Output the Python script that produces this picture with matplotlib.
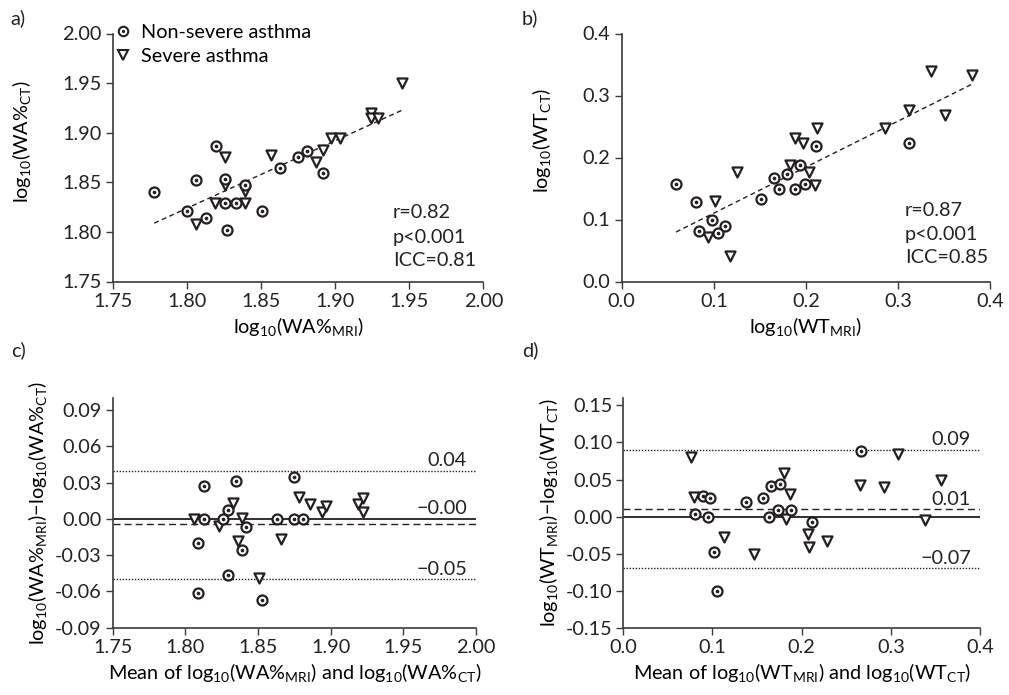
import matplotlib
matplotlib.use('Agg')
import matplotlib.pyplot as plt
from matplotlib.lines import Line2D
from matplotlib.legend_handler import HandlerTuple
import numpy as np

plt.rcParams['font.family'] = ['Lato', 'DejaVu Sans']
plt.rcParams['mathtext.default'] = 'regular'
plt.rcParams['axes.unicode_minus'] = True

# ---------------- data ----------------
# Panel a: log10(WA%) MRI (x) vs CT (y)
a_ns_x = [1.778, 1.820, 1.806, 1.826, 1.839, 1.800, 1.813, 1.826, 1.833, 1.827, 1.851, 1.863, 1.875, 1.881, 1.892]
a_ns_y = [1.840, 1.887, 1.852, 1.853, 1.847, 1.821, 1.814, 1.829, 1.829, 1.802, 1.821, 1.864, 1.876, 1.882, 1.859]
a_s_x = [1.826, 1.857, 1.826, 1.839, 1.819, 1.839, 1.806, 1.887, 1.892, 1.897, 1.903, 1.924, 1.924, 1.929, 1.945]
a_s_y = [1.876, 1.878, 1.847, 1.841, 1.829, 1.829, 1.808, 1.870, 1.883, 1.895, 1.895, 1.920, 1.915, 1.915, 1.950]
a_fit = (0.681, 0.598)      # slope, intercept of dashed line
a_stats = ['r=0.82', 'p<0.001', 'ICC=0.81']

# Panel b: log10(WT) MRI (x) vs CT (y)
b_ns_x = [0.059, 0.081, 0.098, 0.084, 0.105, 0.112, 0.151, 0.165, 0.179, 0.171, 0.194, 0.188, 0.199, 0.211, 0.312]
b_ns_y = [0.158, 0.129, 0.100, 0.082, 0.078, 0.090, 0.133, 0.167, 0.173, 0.149, 0.188, 0.149, 0.158, 0.219, 0.224]
b_s_x = [0.125, 0.101, 0.094, 0.118, 0.183, 0.188, 0.197, 0.212, 0.203, 0.210, 0.286, 0.312, 0.336, 0.351, 0.380]
b_s_y = [0.176, 0.130, 0.071, 0.041, 0.188, 0.232, 0.223, 0.248, 0.176, 0.156, 0.248, 0.277, 0.339, 0.269, 0.333]
b_fit = (0.742, 0.036)
b_stats = ['r=0.87', 'p<0.001', 'ICC=0.85']

# Panel c: Bland-Altman WA%
c_ns_x = [1.813, 1.835, 1.875, 1.813, 1.826, 1.829, 1.842, 1.863, 1.875, 1.881, 1.809, 1.839, 1.829, 1.809, 1.853]
c_ns_y = [0.027, 0.031, 0.035, 0.000, 0.000, 0.007, -0.007, 0.000, 0.000, 0.000, -0.020, -0.026, -0.046, -0.061, -0.067]
c_s_x = [1.806, 1.833, 1.839, 1.823, 1.836, 1.866, 1.851, 1.878, 1.886, 1.894, 1.897, 1.919, 1.922, 1.922]
c_s_y = [0.000, 0.013, 0.001, -0.006, -0.018, -0.017, -0.049, 0.018, 0.012, 0.006, 0.011, 0.012, 0.017, 0.006]
c_mean, c_upper, c_lower = -0.004, 0.040, -0.050
c_labels = ['0.04', '\u22120.00', '\u22120.05']

# Panel d: Bland-Altman WT
d_ns_x = [0.267, 0.089, 0.097, 0.080, 0.095, 0.138, 0.157, 0.166, 0.176, 0.163, 0.173, 0.188, 0.212, 0.102, 0.105]
d_ns_y = [0.089, 0.028, 0.025, 0.003, 0.000, 0.019, 0.025, 0.041, 0.044, 0.000, 0.009, 0.009, -0.008, -0.048, -0.100]
d_s_x = [0.076, 0.079, 0.113, 0.147, 0.180, 0.187, 0.182, 0.207, 0.208, 0.228, 0.265, 0.292, 0.308, 0.356, 0.338]
d_s_y = [0.081, 0.026, -0.027, -0.051, 0.059, 0.030, -0.003, -0.023, -0.041, -0.033, 0.042, 0.040, 0.085, 0.049, -0.004]
d_mean, d_upper, d_lower = 0.010, 0.090, -0.070
d_labels = ['0.09', '0.01', '\u22120.07']

legend_labels = ['Non-severe asthma', 'Severe asthma']

# ---------------- style ----------------
INK = '#231f20'
AX = '#3a3a3a'
FS = 14.3

W, H = 1009, 695
fig = plt.figure(figsize=(W / 100, H / 100), dpi=100)


def rect(l, r, t, b):
    return [l / W, 1 - b / H, (r - l) / W, (b - t) / H]


def style(ax):
    for s in ['top', 'right']:
        ax.spines[s].set_visible(False)
    for s in ['left', 'bottom']:
        ax.spines[s].set_color(AX)
        ax.spines[s].set_linewidth(1.2)
    ax.tick_params(direction='out', length=5, width=1, color=AX,
                   labelsize=FS, pad=3, labelcolor='#222222')


def markers(ax, nx, ny, sx, sy):
    ax.scatter(sx, sy, s=52, marker='v', facecolors='white', edgecolors=INK,
               linewidths=1.6, zorder=3, clip_on=False)
    ax.scatter(nx, ny, s=52, marker='o', facecolors='white', edgecolors=INK,
               linewidths=1.6, zorder=4, clip_on=False)
    ax.scatter(nx, ny, s=7, marker='o', color=INK, linewidths=0, zorder=5,
               clip_on=False)


ax_a = fig.add_axes(rect(112.7, 483.3, 33.5, 281.5))
ax_b = fig.add_axes(rect(621.7, 990.0, 33.5, 281.5))
ax_c = fig.add_axes(rect(112.7, 476.0, 398.0, 627.7))
ax_d = fig.add_axes(rect(623.3, 980.0, 398.0, 627.7))
for ax in (ax_a, ax_b, ax_c, ax_d):
    style(ax)

# ---- panel a ----
markers(ax_a, a_ns_x, a_ns_y, a_s_x, a_s_y)
xs = np.array([min(a_ns_x + a_s_x), max(a_ns_x + a_s_x)])
ax_a.plot(xs, a_fit[0] * xs + a_fit[1], ls=(0, (3.5, 2.5)), color=INK, lw=1.0, zorder=2)
ax_a.set_xlim(1.75, 2.00)
ax_a.set_ylim(1.75, 2.00)
ax_a.set_xticks([1.75, 1.80, 1.85, 1.90, 1.95, 2.00])
ax_a.set_yticks([1.75, 1.80, 1.85, 1.90, 1.95, 2.00])
ax_a.xaxis.set_major_formatter(matplotlib.ticker.FormatStrFormatter('%.2f'))
ax_a.yaxis.set_major_formatter(matplotlib.ticker.FormatStrFormatter('%.2f'))
ax_a.set_xlabel('log$_{10}$(WA%$_{MRI}$)', fontsize=FS)
ax_a.set_ylabel('log$_{10}$(WA%$_{CT}$)', fontsize=FS)
ax_a.yaxis.set_label_coords(-0.215, 0.5625)
for t, yy in zip(a_stats, [0.280, 0.179, 0.083]):
    ax_a.text(0.756, yy, t, transform=ax_a.transAxes, fontsize=FS, va='center', ha='left', color='#222222')

h_circ = Line2D([], [], ls='none', marker='o', ms=6.8, mfc='white', mec=INK, mew=1.5)
h_dot = Line2D([], [], ls='none', marker='o', ms=2.4, mfc=INK, mec=INK, mew=0)
h_tri = Line2D([], [], ls='none', marker='v', ms=6.8, mfc='white', mec=INK, mew=1.5)
ax_a.legend([(h_circ, h_dot), h_tri], legend_labels, handler_map={tuple: HandlerTuple(ndivide=1)},
            loc='upper left', bbox_to_anchor=(0.0, 1.04), frameon=False, fontsize=FS,
            handlelength=1.0, handletextpad=0.4, borderpad=0, borderaxespad=0,
            labelspacing=0.35)

# ---- panel b ----
markers(ax_b, b_ns_x, b_ns_y, b_s_x, b_s_y)
xs = np.array([min(b_ns_x + b_s_x), max(b_ns_x + b_s_x)])
ax_b.plot(xs, b_fit[0] * xs + b_fit[1], ls=(0, (3.5, 2.5)), color=INK, lw=1.0, zorder=2)
ax_b.set_xlim(0, 0.4)
ax_b.set_ylim(0, 0.4)
ax_b.set_xticks([0, 0.1, 0.2, 0.3, 0.4])
ax_b.set_yticks([0, 0.1, 0.2, 0.3, 0.4])
ax_b.xaxis.set_major_formatter(matplotlib.ticker.FormatStrFormatter('%.1f'))
ax_b.yaxis.set_major_formatter(matplotlib.ticker.FormatStrFormatter('%.1f'))
ax_b.set_xlabel('log$_{10}$(WT$_{MRI}$)', fontsize=FS)
ax_b.set_ylabel('log$_{10}$(WT$_{CT}$)', fontsize=FS)
ax_b.yaxis.set_label_coords(-0.1865, 0.571)
for t, yy in zip(b_stats, [0.288, 0.188, 0.095]):
    ax_b.text(0.769, yy, t, transform=ax_b.transAxes, fontsize=FS, va='center', ha='left', color='#222222')


def ba_lines(ax, mean, up, lo, labels):
    ax.axhline(0, color=INK, lw=1.3, zorder=1)
    ax.axhline(mean, color=INK, lw=1.0, ls=(0, (5, 3)), zorder=1)
    ax.axhline(up, color=INK, lw=1.0, ls=(0, (1, 1.2)), zorder=1)
    ax.axhline(lo, color=INK, lw=1.0, ls=(0, (1, 1.2)), zorder=1)
    for val, lab in zip([up, max(mean, 0), lo], labels):
        ax.annotate(lab, xy=(1, val), xycoords=('axes fraction', 'data'),
                    xytext=(-6.5, 7.2), textcoords='offset points',
                    ha='right', va='center', fontsize=FS, color='#222222')


# ---- panel c ----
markers(ax_c, c_ns_x, c_ns_y, c_s_x, c_s_y)
ba_lines(ax_c, c_mean, c_upper, c_lower, c_labels)
ax_c.set_xlim(1.75, 2.00)
ax_c.set_ylim(-0.09, 0.10)
ax_c.set_xticks([1.75, 1.80, 1.85, 1.90, 1.95, 2.00])
ax_c.set_yticks([-0.09, -0.06, -0.03, 0.0, 0.03, 0.06, 0.09])
ax_c.xaxis.set_major_formatter(matplotlib.ticker.FormatStrFormatter('%.2f'))
ax_c.yaxis.set_major_formatter(matplotlib.ticker.FormatStrFormatter('%.2f'))
ax_c.set_xlabel('Mean of log$_{10}$(WA%$_{MRI}$) and log$_{10}$(WA%$_{CT}$)', fontsize=FS)
ax_c.set_ylabel('log$_{10}$(WA%$_{MRI}$)\u2212log$_{10}$(WA%$_{CT}$)', fontsize=FS)

# ---- panel d ----
markers(ax_d, d_ns_x, d_ns_y, d_s_x, d_s_y)
ba_lines(ax_d, d_mean, d_upper, d_lower, d_labels)
ax_d.set_xlim(0, 0.4)
ax_d.set_ylim(-0.15, 0.16)
ax_d.set_xticks([0, 0.1, 0.2, 0.3, 0.4])
ax_d.set_yticks([-0.15, -0.10, -0.05, 0.0, 0.05, 0.10, 0.15])
ax_d.xaxis.set_major_formatter(matplotlib.ticker.FormatStrFormatter('%.1f'))
ax_d.yaxis.set_major_formatter(matplotlib.ticker.FormatStrFormatter('%.2f'))
ax_d.set_xlabel('Mean of log$_{10}$(WT$_{MRI}$) and log$_{10}$(WT$_{CT}$)', fontsize=FS)
ax_d.set_ylabel('log$_{10}$(WT$_{MRI}$)\u2212log$_{10}$(WT$_{CT}$)', fontsize=FS)

# panel letters
for lab, (px, py) in {'a)': (18, 18), 'b)': (530, 18), 'c)': (19, 350), 'd)': (530, 350)}.items():
    fig.text(px / W, 1 - py / H, lab, ha='center', va='center', fontsize=FS, color='#222222')

fig.savefig('out.png', dpi=100, facecolor='white')
